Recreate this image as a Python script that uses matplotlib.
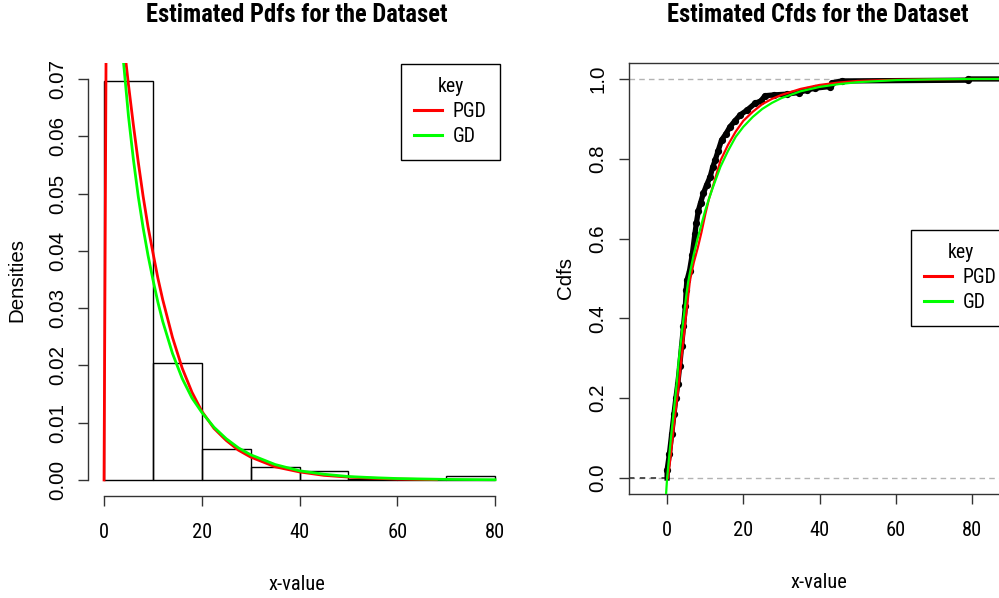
import matplotlib
matplotlib.use("Agg")
import matplotlib.pyplot as plt
from matplotlib import font_manager as fm
from matplotlib.lines import Line2D

# ---------------- data ----------------
bin_edges = [0, 10, 20, 30, 40, 50, 60, 70, 80]
hist_density = [0.0696, 0.0205, 0.00535, 0.0022, 0.00157, 0.0002, 0.0002, 0.00064]

# fitted pdfs
pgd_pdf_x = [0.0, 0.5, 1.0, 2.0, 3.0, 4.0, 4.5, 5.0, 6.0, 7.0, 8.0, 9.0, 10.0, 11.0, 12.0,
             14.0, 16.0, 18.0, 20.0, 22.5, 25.0, 27.5, 30.0, 35.0, 40.0, 45.0, 50.0,
             55.0, 60.0, 68.0]
pgd_pdf_y = [0.0, 0.090, 0.110, 0.100, 0.088, 0.078, 0.0728, 0.0690, 0.0620, 0.0555, 0.0495,
             0.0442, 0.0397, 0.0353, 0.0315, 0.0249, 0.0195, 0.0153, 0.0120, 0.0090, 0.0069,
             0.0052, 0.0040, 0.0023, 0.0014, 0.0008, 0.0005, 0.0003, 0.00015, 0.00005]
gd_pdf_x = [3.0, 4.0, 5.0, 6.0, 7.0, 8.0, 9.0, 10.0, 11.0, 12.0, 14.0, 16.0, 18.0, 20.0,
            22.5, 25.0, 27.5, 30.0, 35.0, 40.0, 45.0, 50.0, 55.0, 60.0, 70.0, 80.0]
gd_pdf_y = [0.084, 0.0728, 0.0635, 0.0560, 0.0495, 0.0440, 0.0392, 0.0350, 0.0311, 0.0277,
            0.0221, 0.0177, 0.0143, 0.0118, 0.0092, 0.0072, 0.0056, 0.0044, 0.0027, 0.0016,
            0.0010, 0.0006, 0.0004, 0.00025, 0.0001, 0.00004]

ecdf_x = [0.0, 0.0, 0.6, 1.2, 1.8, 2.3, 2.8, 3.3, 3.8, 4.3, 4.8, 5.0, 5.2, 5.9, 6.6, 7.3,
          7.7, 8.2, 8.8, 9.5, 10.4, 11.3, 12.0, 12.6, 13.4, 14.3, 15.4, 16.5, 17.8, 19.2,
          21.0, 23.1, 24.6, 25.7, 28.0, 31.4, 34.5, 36.7, 38.8, 42.8, 43.2, 45.8, 79.0, 79.0, 92.0]
ecdf_y = [0.0, 0.02, 0.06, 0.11, 0.16, 0.20, 0.236, 0.28, 0.33, 0.38, 0.43, 0.47, 0.495,
          0.52, 0.56, 0.612, 0.64, 0.67, 0.69, 0.713, 0.735, 0.755, 0.78, 0.796, 0.82, 0.847,
          0.862, 0.88, 0.895, 0.91, 0.922, 0.939, 0.945, 0.958, 0.96, 0.962, 0.966, 0.972,
          0.977, 0.981, 0.99, 0.995, 0.997, 1.0, 1.0]

# fitted cdfs
pgd_cdf_x = [0.2, 0.5, 1.0, 2.0, 3.0, 4.0, 5.0, 6.0, 7.0, 8.0, 9.0, 10.0, 11.0, 12.0, 14.0,
             16.0, 18.0, 20.0, 22.5, 25.0, 27.5, 30.0, 35.0, 40.0, 45.0, 50.0, 60.0, 70.0,
             80.0, 92.0]
pgd_cdf_y = [0.0, 0.02, 0.06, 0.15, 0.228, 0.32, 0.41, 0.495, 0.54, 0.575, 0.615, 0.66, 0.70,
             0.73, 0.795, 0.835, 0.868, 0.895, 0.918, 0.937, 0.95, 0.96, 0.975, 0.985, 0.991,
             0.995, 0.998, 0.999, 1.0, 1.0]
gd_cdf_x = [-0.3, 0.0, 0.5, 1.0, 1.5, 2.0, 2.5, 3.0, 4.0, 5.0, 5.5, 6.0, 7.0, 8.0, 9.0, 10.0,
            11.0, 12.0, 14.0, 16.0, 18.0, 20.0, 22.5, 25.0, 27.5, 30.0, 35.0, 40.0, 45.0,
            50.0, 60.0, 70.0, 80.0, 92.0]
gd_cdf_y = [-0.045, 0.0, 0.05, 0.10, 0.145, 0.19, 0.235, 0.29, 0.375, 0.455, 0.49, 0.515,
            0.56, 0.60, 0.635, 0.67, 0.70, 0.728, 0.78, 0.82, 0.855, 0.88, 0.905, 0.925,
            0.94, 0.952, 0.969, 0.98, 0.987, 0.992, 0.997, 0.999, 1.0, 1.0]

series_names = ["PGD", "GD"]
series_colors = ["#ff0000", "#00ff00"]
pdf_xticks = [0, 20, 40, 60, 80]
pdf_yticks = [0.0, 0.01, 0.02, 0.03, 0.04, 0.05, 0.06, 0.07]
pdf_ytick_labels = ["0.00", "0.01", "0.02", "0.03", "0.04", "0.05", "0.06", "0.07"]
cdf_xticks = [0, 20, 40, 60, 80]
cdf_yticks = [0.0, 0.2, 0.4, 0.6, 0.8, 1.0]
cdf_ytick_labels = ["0.0", "0.2", "0.4", "0.6", "0.8", "1.0"]

# ---------------- fonts ----------------
names = {f.name for f in fm.fontManager.ttflist}
NARROW = None
for cand in ["Liberation Sans Narrow", "Arial Narrow", "Nimbus Sans Narrow",
             "Nimbus Sans L Condensed", "Roboto Condensed", "Open Sans Condensed",
             "PT Sans Narrow"]:
    if cand in names:
        NARROW = cand
        break
REG = "Liberation Sans"
BASE = 14.8
if NARROW is None:
    NARROW = REG
    TITLE_FS, XT_FS, XL_FS, LEG_FS = 15.0, 13.2, 13.0, 12.0
else:
    TITLE_FS, XT_FS, XL_FS, LEG_FS = BASE * 1.2, BASE, BASE, 14.2
AX_COL = "#333333"

W, H = 999, 598
fig = plt.figure(figsize=(W / 100, H / 100), dpi=100)

def px_axes(x0, y0, x1, y1):
    return fig.add_axes([x0 / W, 1 - y1 / H, (x1 - x0) / W, (y1 - y0) / H])

# ================= left: pdfs =================
ax1 = px_axes(88.4, 63, 510.7, 496)
ax1.set_xlim(-3.2, 83.2)
ax1.set_ylim(-0.0028, 0.0728)
widths = [bin_edges[i + 1] - bin_edges[i] for i in range(len(hist_density))]
ax1.bar(bin_edges[:-1], hist_density, width=widths, align="edge", fill=False,
        edgecolor="black", linewidth=1.0, zorder=2)
ax1.plot(pgd_pdf_x, pgd_pdf_y, color=series_colors[0], lw=2.0, zorder=3)
ax1.plot(gd_pdf_x, gd_pdf_y, color=series_colors[1], lw=2.0, zorder=4)
for s in ["top", "right"]:
    ax1.spines[s].set_visible(False)
ax1.spines["left"].set_bounds(0, 0.07)
ax1.spines["bottom"].set_bounds(0, 80)
for s in ["left", "bottom"]:
    ax1.spines[s].set_color(AX_COL)
    ax1.spines[s].set_linewidth(1.0)
ax1.set_xticks(pdf_xticks)
ax1.set_xticklabels([str(v) for v in pdf_xticks], fontfamily=NARROW, fontsize=XT_FS)
ax1.set_yticks(pdf_yticks)
ax1.set_yticklabels(pdf_ytick_labels, fontfamily=REG, fontsize=BASE, rotation=90, va="center")
ax1.tick_params(axis="x", length=7.5, width=1, color=AX_COL, pad=12)
ax1.tick_params(axis="y", length=7.5, width=1, color=AX_COL, pad=8)
ax1.text((296.5 - 88.4) / 422.3, (496 - 15) / 433, "Estimated Pdfs for the Dataset",
         transform=ax1.transAxes, ha="center", va="center", fontfamily=NARROW,
         fontweight="bold", fontsize=TITLE_FS)
ax1.text((297 - 88.4) / 422.3, (496 - 584) / 433, "x-value", transform=ax1.transAxes,
         ha="center", va="center", fontfamily=NARROW, fontsize=XL_FS)
ax1.text((17 - 88.4) / 422.3, 0.5, "Densities", transform=ax1.transAxes, ha="center",
         va="center", rotation=90, fontfamily=REG, fontsize=BASE)

handles = [Line2D([], [], color=c, lw=2.2) for c in series_colors]

def add_legend(ax, x0, y0):
    leg = ax.legend(handles, series_names, title="key", loc="upper left",
                    bbox_to_anchor=(x0 / W, 1 - y0 / H), bbox_transform=fig.transFigure,
                    borderaxespad=0, fancybox=False, framealpha=1, edgecolor="black",
                    prop={"family": NARROW, "size": LEG_FS}, handlelength=1.4,
                    handletextpad=0.55, labelspacing=0.3, borderpad=0.68)
    leg.get_title().set_fontfamily(NARROW)
    leg.get_title().set_fontsize(LEG_FS)
    leg.get_frame().set_linewidth(1.0)
    return leg

add_legend(ax1, 401, 64)

# ================= right: cdfs =================
ax2 = px_axes(629, 63, 1010, 494)
ax2.set_xlim(-10, 90)
ax2.set_ylim(-0.04, 1.04)
ax2.axhline(0, color="#b3b3b3", ls=(0, (4, 3)), lw=1.0, zorder=1)
ax2.axhline(1, color="#b3b3b3", ls=(0, (4, 3)), lw=1.0, zorder=1)
ax2.hlines(0, -10, ecdf_x[0], color="#444444", ls=(0, (3, 3)), lw=1.3, zorder=2)
ax2.plot(ecdf_x, ecdf_y, color="black", lw=3.8, zorder=2, solid_joinstyle="round")
ax2.plot(ecdf_x[1:-1], ecdf_y[1:-1], "o", color="black", ms=4.2, zorder=2)
ax2.plot(pgd_cdf_x, pgd_cdf_y, color=series_colors[0], lw=1.6, zorder=3)
ax2.plot(gd_cdf_x, gd_cdf_y, color=series_colors[1], lw=1.6, zorder=4)
for s in ax2.spines.values():
    s.set_color(AX_COL)
    s.set_linewidth(1.0)
ax2.set_xticks(cdf_xticks)
ax2.set_xticklabels([str(v) for v in cdf_xticks], fontfamily=NARROW, fontsize=XT_FS)
ax2.set_yticks(cdf_yticks)
ax2.set_yticklabels(cdf_ytick_labels, fontfamily=REG, fontsize=BASE, rotation=90, va="center")
ax2.tick_params(axis="x", length=7.5, width=1, color=AX_COL, pad=12)
ax2.tick_params(axis="y", length=7.5, width=1, color=AX_COL, pad=8)
ax2.text((817.5 - 629) / 381, (494 - 15) / 431, "Estimated Cfds for the Dataset",
         transform=ax2.transAxes, ha="center", va="center", fontfamily=NARROW,
         fontweight="bold", fontsize=TITLE_FS)
ax2.text((819 - 629) / 381, (494 - 582) / 431, "x-value", transform=ax2.transAxes,
         ha="center", va="center", fontfamily=NARROW, fontsize=XL_FS)
ax2.text((566 - 629) / 381, (494 - 278) / 431, "Cdfs", transform=ax2.transAxes,
         ha="center", va="center", rotation=90, fontfamily=REG, fontsize=BASE)

add_legend(ax2, 911, 230)

fig.savefig("out.png", dpi=100)
